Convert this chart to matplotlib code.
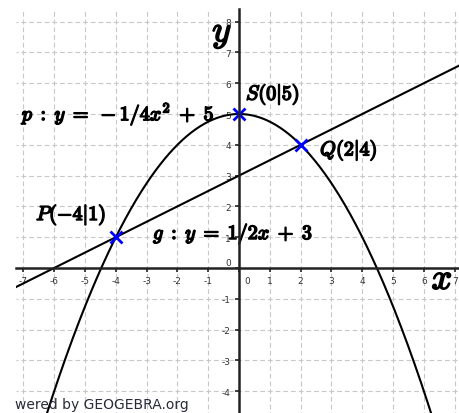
import numpy as np
import matplotlib.pyplot as plt
import matplotlib.patheffects as pe

plt.rcParams['mathtext.fontset'] = 'cm'
plt.rcParams['lines.scale_dashes'] = False

# parabola p: y = a*x^2 + c, line g: y = m*x + b
p_a, p_c = -1 / 4, 5
g_m, g_b = 1 / 2, 3

pt_names = ["P", "S", "Q"]
pt_x = [-4, 0, 2]
pt_y = [1, 5, 4]

x_ticks = list(range(-7, 8))
y_ticks = list(range(-4, 9))

fig = plt.figure(figsize=(4.59, 4.14), dpi=100)
ax = fig.add_axes([16 / 459, 0, 443 / 459, 404 / 414])
ax.set_xlim(-7.24, 7.14)
ax.set_ylim(-4.71, 8.41)

# dashed grid, dashes lined up so they cross at the grid points
unit = 30.8 / 1.389  # one unit in points
period = unit / 4
on, off = period * 0.62, period * 0.38
x0, y0 = ax.get_xlim()[0], ax.get_ylim()[0]
for xv in x_ticks:
    off0 = (on / 2 - (np.ceil(y0) - y0) * unit) % period
    ax.axvline(xv, color="#c8c8c8", lw=0.8, ls=(off0, (on, off)), zorder=0)
for yv in y_ticks:
    off0 = (on / 2 - (np.ceil(x0) - x0) * unit) % period
    ax.axhline(yv, color="#c8c8c8", lw=0.8, ls=(off0, (on, off)), zorder=0)

for s in ["top", "right"]:
    ax.spines[s].set_visible(False)
for s in ["left", "bottom"]:
    ax.spines[s].set_position(("data", 0))
    ax.spines[s].set_linewidth(1.8)
    ax.spines[s].set_color("#222222")
    ax.spines[s].set_zorder(6)

ax.set_xticks(x_ticks)
ax.set_xticklabels([str(t) if t != 0 else "" for t in x_ticks])
ax.set_yticks(y_ticks)
ax.set_yticklabels([str(t) if t != 0 else "" for t in y_ticks])
ax.tick_params(direction="out", length=3, width=1.2, color="#222222",
               labelsize=6.5, labelcolor="#333333", pad=3)
ax.annotate("0", xy=(0, 0), xytext=(6, -9), textcoords="offset points",
            fontsize=6.5, color="#333333", ha="center", va="center")
ax.annotate("0", xy=(0, 0), xytext=(-8, 4), textcoords="offset points",
            fontsize=6.5, color="#333333", ha="center", va="center")

xs = np.linspace(-7.24, 7.14, 400)
ax.plot(xs, p_a * xs ** 2 + p_c, color="black", lw=1.5, zorder=3)
ax.plot(xs, g_m * xs + g_b, color="black", lw=1.5, zorder=3)

ax.plot(pt_x, pt_y, ls="none", marker="x", ms=8, mew=2, color="#0000ff", zorder=4)

bold = [pe.withStroke(linewidth=1.1, foreground="black")]
offsets = {"P": (-7, 16, "right"), "S": (5, 14, "left"), "Q": (14, -4, "left")}
for n, xv, yv in zip(pt_names, pt_x, pt_y):
    dx, dy, ha = offsets[n]
    ax.annotate(r"$%s(%s|%s)$" % (n, "-" + str(-xv) if xv < 0 else xv, yv),
                xy=(xv, yv), xytext=(dx, dy), textcoords="offset points",
                fontsize=14.5, ha=ha, va="center", path_effects=bold, zorder=5)

ax.text(-7.05, 4.8, r"$p\;:\;y\;=\;-1/4x^2\;+\;5$", fontsize=14.5, ha="left",
        va="baseline", path_effects=bold, zorder=5)
ax.text(-2.79, 1.12, r"$g\;:\;y\;=\;1/2x\;+\;3$", fontsize=14.5, ha="left",
        va="center", path_effects=bold, zorder=5)

ax.text(-0.55, 7.62, r"$y$", fontsize=26, ha="center", va="center",
        path_effects=[pe.withStroke(linewidth=1.2, foreground="black")])
ax.text(6.59, -0.36, r"$x$", fontsize=26, ha="center", va="center",
        path_effects=[pe.withStroke(linewidth=1.2, foreground="black")])

fig.text(15 / 459, 1 - 405 / 414, "wered by GEOGEBRA.org", fontsize=10,
         color="#2a2a3a", ha="left", va="center")

fig.savefig("out.png", dpi=100)
